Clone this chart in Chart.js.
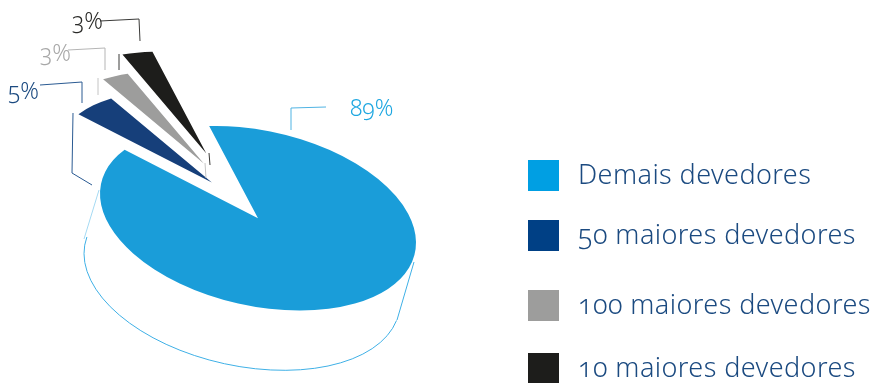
<!DOCTYPE html>
<html lang="pt">
<head>
<meta charset="utf-8">
<style>
  html, body { margin: 0; padding: 0; background: #fff; }
  #wrap { position: relative; width: 872px; height: 383px; overflow: hidden; }
  #wrap canvas { position: absolute; left: 0; top: 0; }
  .txt {
    position: absolute; white-space: nowrap; line-height: 1;
    font-family: "Noto Sans", "Open Sans", sans-serif; font-weight: 300;
    font-variant-numeric: oldstyle-nums; font-feature-settings: "onum" 1;
  }
  .box { position: absolute; left: 528px; width: 31px; height: 31px; }
</style>
</head>
<body>
<div id="wrap">
  <canvas id="myChart" width="872" height="383"></canvas>
</div>
<script src="https://cdn.jsdelivr.net/npm/chart.js@4"></script>
<script>
const categories = ['Demais devedores', '50 maiores devedores', '100 maiores devedores', '10 maiores devedores'];
const shares = [89, 5, 3, 3];
const sliceColors = ['#1a9dd9', '#163f7a', '#9d9d9c', '#1d1d1b'];
const legendColors = ['#009fe3', '#004085', '#9d9d9c', '#1d1d1b'];
const labelColors = ['#1ea7e1', '#1b4a80', '#a8a8a8', '#2a2a28'];

// legend rows and percent labels are not evenly spaced
const legendTops = [160, 220, 290, 353];
const labelSpots = [[350, 96], [8, 79], [40, 41], [72, 9]];

// tilted disc: screen centre and the skew applied to the unit circle
const disc = { x: 258, y: 220, sx: 158, kx: 24.5, sy: 89 };
const rimShift = { x: -16, y: 58 };

// how far each slice is pulled out, in disc radii; grow is the perspective gain
const explode = [
  { u: 0, v: -0.02, grow: 1 },
  { u: -0.292, v: -0.34, grow: 1 },
  { u: -0.343, v: -0.54, grow: 1 },
  { u: -0.328, v: -0.66, grow: 1.1 }
];

const leaders = [
  { color: '#4fb3e3', pts: [[291, 130], [291, 108], [326, 107]] },
  { color: '#2a5a92', pts: [[40, 85], [82, 82], [82, 103]] },
  { color: '#2a5a92', pts: [[73, 113], [72, 173], [92, 185]] },
  { color: '#b5b5b5', pts: [[68, 50], [105, 48], [105, 70]] },
  { color: '#c4c4c4', pts: [[98, 78], [98, 95]] },
  { color: '#c4c4c4', pts: [[205, 163], [206, 178]] },
  { color: '#3a3a38', pts: [[100, 21], [139, 19], [140, 41]] },
  { color: '#3a3a38', pts: [[119, 54], [119, 70]] },
  { color: '#3a3a38', pts: [[209, 153], [210, 165]] }
];

const tiltDisc = {
  id: 'tiltDisc',
  afterUpdate(chart) {
    chart.getDatasetMeta(0).data.forEach((arc, i) => {
      const r = arc.outerRadius;
      arc.x += explode[i].u * r;
      arc.y += explode[i].v * r;
      arc.outerRadius = r * explode[i].grow;
    });
    chart.$discRadius = chart.getDatasetMeta(0).data[0].outerRadius;
    chart.$discCentre = { x: chart.width / 2, y: chart.height / 2 };
  },
  beforeDatasetsDraw(chart) {
    const r = chart.$discRadius;
    const ctx = chart.ctx;

    // side wall outline sits under the disc
    ctx.save();
    ctx.translate(disc.x + rimShift.x, disc.y + rimShift.y);
    ctx.transform(disc.sx / r, disc.kx / r, 0, disc.sy / r, 0, 0);
    ctx.beginPath();
    ctx.arc(0, 0, r, 12 * Math.PI / 180, 191 * Math.PI / 180);
    ctx.restore();
    ctx.strokeStyle = '#3fb0e6';
    ctx.lineWidth = 1;
    ctx.stroke();

    ctx.beginPath();
    ctx.moveTo(99, 190);
    ctx.lineTo(84, 239);
    ctx.strokeStyle = '#a5daf3';
    ctx.stroke();
    ctx.beginPath();
    ctx.moveTo(414, 262);
    ctx.lineTo(397, 320);
    ctx.strokeStyle = '#3fb0e6';
    ctx.stroke();

    ctx.save();
    ctx.translate(disc.x, disc.y);
    ctx.transform(disc.sx / r, disc.kx / r, 0, disc.sy / r, 0, 0);
    ctx.translate(-chart.$discCentre.x, -chart.$discCentre.y);
  },
  afterDatasetsDraw(chart) {
    const ctx = chart.ctx;
    ctx.restore();
    ctx.lineWidth = 1;
    leaders.forEach(l => {
      ctx.beginPath();
      l.pts.forEach((p, i) => i ? ctx.lineTo(p[0], p[1]) : ctx.moveTo(p[0], p[1]));
      ctx.strokeStyle = l.color;
      ctx.stroke();
    });
  }
};

const ctx = document.getElementById('myChart');
const myChart = new Chart(ctx, {
  type: 'pie',
  data: {
    labels: categories,
    datasets: [{
      data: shares,
      backgroundColor: sliceColors,
      borderWidth: 0,
      clip: false
    }]
  },
  options: {
    responsive: false,
    animation: false,
    rotation: -18,
    layout: { padding: 0 },
    plugins: { legend: { display: false }, tooltip: { enabled: false } }
  },
  plugins: [tiltDisc]
});

// percent labels and legend are html so the numerals can be old style
const wrap = document.getElementById('wrap');
shares.forEach((v, i) => {
  const pct = document.createElement('div');
  pct.className = 'txt';
  pct.textContent = v + '%';
  pct.style.cssText = `left:${labelSpots[i][0]}px;top:${labelSpots[i][1]}px;font-size:23px;color:${labelColors[i]}`;
  wrap.appendChild(pct);

  const box = document.createElement('div');
  box.className = 'box';
  box.style.top = legendTops[i] + 'px';
  box.style.background = legendColors[i];
  wrap.appendChild(box);

  const name = document.createElement('div');
  name.className = 'txt';
  name.textContent = categories[i];
  name.style.cssText = `left:578px;top:${legendTops[i]}px;font-size:27px;letter-spacing:0.42px;color:#1b4a80`;
  wrap.appendChild(name);
});
</script>
</body>
</html>
